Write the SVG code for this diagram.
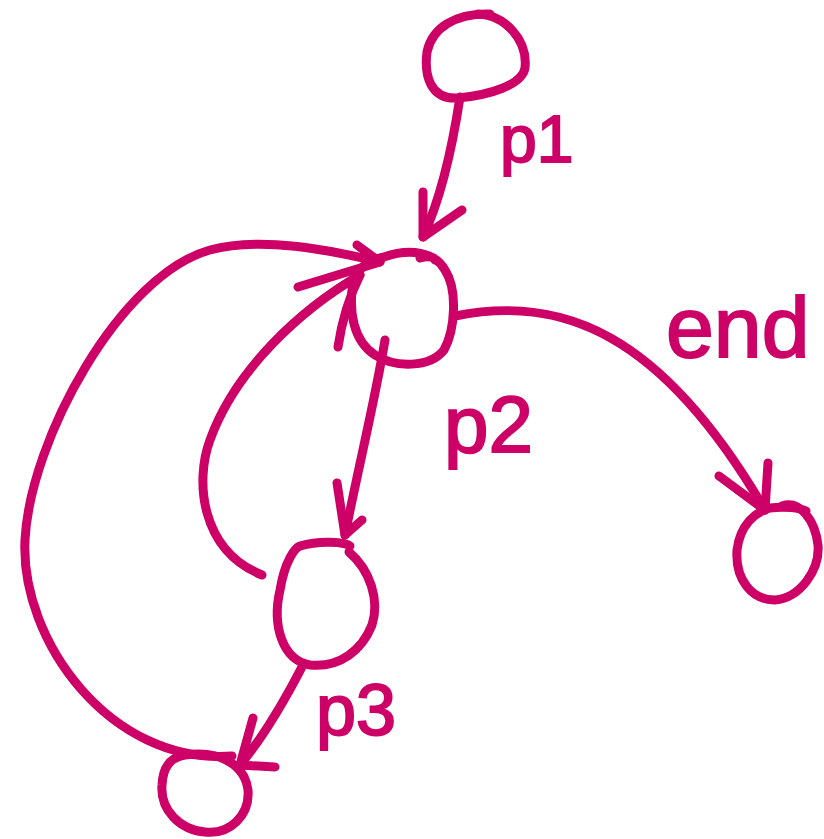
<svg xmlns="http://www.w3.org/2000/svg" width="824" height="839" viewBox="0 0 824 839">
<style>
.s{fill:none;stroke:#CC0066;stroke-width:9;stroke-linecap:round;stroke-linejoin:round}
.t{fill:#CC0066;stroke:#CC0066;stroke-width:2;font-family:"Liberation Sans",Arial,sans-serif}
</style>
<rect width="824" height="839" fill="#fff"/>
<g id="n1"><path class="s" d="M478,14 C505,15 528,40 525,68 C522,85 490,95 458,98 C430,100 424,75 427,52 C432,28 455,13 490,14"/></g>
<g id="n2"><path class="s" d="M384,257 C410,248 435,252 445,270 C458,290 455,330 444,350 C430,368 395,368 375,355 C352,340 350,310 352,290 C355,268 368,260 384,257 M420,258 C430,255 435,258 435,260"/></g>
<g id="n3"><path class="s" d="M300,546 C320,540 345,542 350,546 M349,552 C370,570 380,600 372,625 C362,650 340,668 310,665 C282,660 272,625 280,590 C285,560 295,548 300,546"/></g>
<g id="n4"><path class="s" d="M185,755 C220,750 245,765 248,790 C250,815 230,835 205,832 C180,830 160,810 162,785 C163,765 172,757 185,755"/></g>
<g id="n5"><path class="s" d="M782,506 C800,500 815,520 818,545 C820,570 800,598 775,600 C752,600 735,580 737,550 C740,525 755,512 770,508 C785,506 800,508 806,511"/></g>
<g id="edges">
<path class="s" d="M460,97 C452,150 440,200 423,237"/>
<path class="s" d="M423,192 L423,237 L462,210"/>
<path class="s" d="M455,316 C560,295 660,330 765,510"/>
<path class="s" d="M719,476 L765,510 L768,463"/>
<path class="s" d="M385,340 C375,400 360,460 345,535"/>
<path class="s" d="M337,483 L345,535 L362,520"/>
<path class="s" d="M303,665 C285,700 265,735 240,765"/>
<path class="s" d="M253,718 L240,765 L275,767"/>
<path class="s" d="M232,756 C110,765 20,640 25,540 C30,440 120,275 210,250 C260,236 330,250 380,262"/>
<path class="s" d="M298,287 L380,262 L357,245"/>
<path class="s" d="M262,575 C200,550 195,480 210,440 C235,370 300,310 360,275"/>
<path class="s" d="M338,347 C342,320 350,295 360,275"/>
</g>
<g id="labels">
<text class="t" x="500" y="162" font-size="66">p1</text>
<text class="t" x="666" y="357" font-size="86">end</text>
<text class="t" x="444" y="452" font-size="80">p2</text>
<text class="t" x="316" y="735" font-size="72">p3</text>
</g>
</svg>
